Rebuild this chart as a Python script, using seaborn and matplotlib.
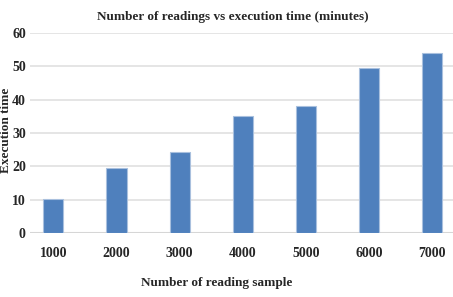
import matplotlib
matplotlib.use("Agg")
import matplotlib.pyplot as plt
import seaborn as sns
import pandas as pd

samples = ["1000", "2000", "3000", "4000", "5000", "6000", "7000"]
exec_times = [10.2, 19.5, 24.3, 35.1, 38.1, 49.5, 54.0]
yticks = [0, 10, 20, 30, 40, 50, 60]

df = pd.DataFrame({"samples": samples, "time": exec_times})

sns.set_theme(style="white")
plt.rcParams["font.family"] = ["Liberation Serif", "DejaVu Serif"]
plt.rcParams["font.weight"] = "bold"

fig = plt.figure(figsize=(4.53, 2.97), dpi=100)
ax = fig.add_axes([30 / 453, 64 / 297, 1 - 30 / 453, 200 / 297])

sns.barplot(data=df, x="samples", y="time", color="#4f80bd", width=0.32,
            saturation=1, edgecolor="#a9c0de", linewidth=0.8, ax=ax, zorder=3)

ax.set_xlim(-0.37, 6.33)
ax.set_ylim(0, 60)
ax.set_yticks(yticks)
ax.set_yticklabels([str(v) for v in yticks], fontsize=10, fontweight="bold")
ax.set_xticks(range(len(samples)))
ax.set_xticklabels(samples, fontsize=10, fontweight="bold")
ax.tick_params(axis="y", length=0, pad=3)
ax.tick_params(axis="x", length=0, pad=10)
ax.grid(axis="y", color="#e3e3e3", linewidth=1.3, zorder=0)
ax.axhline(0, color="#d6d6d6", linewidth=1.5, zorder=1)
for s in ax.spines.values():
    s.set_visible(False)

ax.set_xlabel("")
ax.set_ylabel("")
fig.text(217 / 453, 1 - 283 / 297, "Number of reading sample", ha="center", va="center",
         fontsize=9.5, fontweight="bold")
fig.text(6 / 453, 1 - 130 / 297, "Execution time", ha="center", va="center",
         rotation=90, fontsize=9.5, fontweight="bold")
fig.text(233 / 453, 1 - 17 / 297, "Number of readings vs execution time (minutes)",
         ha="center", va="center", fontsize=9.5, fontweight="bold")

fig.savefig("out.png", dpi=100)
